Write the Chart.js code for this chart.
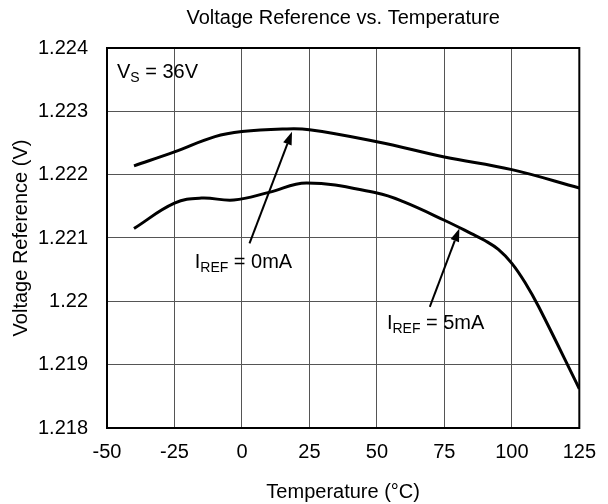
<!DOCTYPE html>
<html>
<head>
<meta charset="utf-8">
<script src="https://cdn.jsdelivr.net/npm/chart.js@4.4.1/dist/chart.umd.min.js"></script>
<style>
  html, body { margin: 0; padding: 0; background: #fff; }
  #wrap { width: 608px; height: 504px; }
</style>
</head>
<body>
<div id="wrap"><canvas id="vrefChart" width="608" height="504"></canvas></div>
<script>
'use strict';

// ── Data ───────────────────────────────────────
const TEMPS_0MA = [-40, -25, -10, 0, 15, 25, 50, 75, 100, 125];
const VREF_0MA  = [1.22214, 1.22236, 1.2226, 1.22268, 1.22272, 1.22271, 1.22252, 1.22228, 1.22208, 1.22179];

const TEMPS_5MA = [-40, -25, -15, -3, 10, 24, 50, 60, 75, 85, 90, 95, 100, 105, 110, 125];
const VREF_5MA  = [1.22115, 1.22155, 1.22163, 1.2216, 1.22172, 1.22187, 1.22171, 1.22157,
                   1.22128, 1.22107, 1.22096, 1.22082, 1.2206, 1.22029, 1.21991, 1.21862];

const X_TICKS = [-50, -25, 0, 25, 50, 75, 100, 125];
const Y_TICKS = [1.218, 1.219, 1.22, 1.221, 1.222, 1.223, 1.224];
const Y_TICK_LABELS = ['1.218', '1.219', '1.22', '1.221', '1.222', '1.223', '1.224'];

const FONT = '"Liberation Sans", Arial, sans-serif';

// annotations, in data units
const NOTES = [
  { main: 'V', sub: 'S', rest: ' = 36V', x: -46.3, y: 1.22362 },
  { main: 'I', sub: 'REF', rest: ' = 0mA', x: -17.5, y: 1.220618 },
  { main: 'I', sub: 'REF', rest: ' = 5mA', x: 53.7, y: 1.219654 }
];
const ARROWS = [
  { from: [2.8, 1.220914], to: [18.55, 1.222677] },
  { from: [69.6, 1.219912], to: [80.57, 1.221151] }
];

const toPts = (xs, ys) => xs.map((x, i) => ({ x, y: ys[i] }));

// ── Plugin: frame, title, labels, arrows ──────
const decor = {
  id: 'decor',
  beforeDatasetsDraw(chart) {
    const { ctx, chartArea: a } = chart;
    ctx.save();
    ctx.strokeStyle = '#000';
    ctx.lineWidth = 2;
    ctx.strokeRect(a.left, a.top, a.right - a.left, a.bottom - a.top);
    ctx.restore();
  },
  afterDatasetsDraw(chart) {
    const { ctx, chartArea: a, scales: { x, y } } = chart;
    ctx.save();

    // title
    ctx.fillStyle = '#000';
    ctx.font = `20px ${FONT}`;
    ctx.textAlign = 'center';
    ctx.textBaseline = 'middle';
    ctx.fillText('Voltage Reference vs. Temperature', (a.left + a.right) / 2, 18);

    // labels with subscripts
    ctx.textAlign = 'left';
    NOTES.forEach(n => {
      let px = x.getPixelForValue(n.x);
      const py = y.getPixelForValue(n.y);
      ctx.font = `20px ${FONT}`;
      ctx.fillText(n.main, px, py);
      px += ctx.measureText(n.main).width;
      ctx.font = `14px ${FONT}`;
      ctx.fillText(n.sub, px, py + 6);
      px += ctx.measureText(n.sub).width;
      ctx.font = `20px ${FONT}`;
      ctx.fillText(n.rest, px, py);
    });

    // arrows
    ctx.strokeStyle = '#000';
    ctx.fillStyle = '#000';
    ctx.lineWidth = 2;
    ARROWS.forEach(ar => {
      const x0 = x.getPixelForValue(ar.from[0]), y0 = y.getPixelForValue(ar.from[1]);
      const x1 = x.getPixelForValue(ar.to[0]),   y1 = y.getPixelForValue(ar.to[1]);
      const ang = Math.atan2(y1 - y0, x1 - x0);
      const len = 13, half = 4.5;
      const bx = x1 - len * Math.cos(ang), by = y1 - len * Math.sin(ang);
      ctx.beginPath();
      ctx.moveTo(x0, y0);
      ctx.lineTo(bx, by);
      ctx.stroke();
      ctx.beginPath();
      ctx.moveTo(x1, y1);
      ctx.lineTo(bx + half * Math.sin(ang), by - half * Math.cos(ang));
      ctx.lineTo(bx - half * Math.sin(ang), by + half * Math.cos(ang));
      ctx.closePath();
      ctx.fill();
    });
    ctx.restore();
  }
};

const lineSet = (label, pts) => ({
  label,
  data: pts,
  borderColor: '#000',
  borderWidth: 3,
  pointRadius: 0,
  fill: false,
  tension: 0.4
});

new Chart(document.getElementById('vrefChart').getContext('2d'), {
  type: 'line',
  data: {
    datasets: [
      lineSet('IREF = 0mA', toPts(TEMPS_0MA, VREF_0MA)),
      lineSet('IREF = 5mA', toPts(TEMPS_5MA, VREF_5MA))
    ]
  },
  plugins: [decor],
  options: {
    responsive: false,
    animation: false,
    devicePixelRatio: 1,
    layout: { padding: { top: 48, right: 27, left: 0, bottom: 0 } },
    plugins: { legend: { display: false }, tooltip: { enabled: false }, title: { display: false } },
    scales: {
      x: {
        type: 'linear',
        min: -50, max: 125,
        afterBuildTicks: s => { s.ticks = X_TICKS.map(v => ({ value: v })); },
        afterFit: s => { s.height = 76; },
        grid: { color: '#555', lineWidth: 1, drawTicks: false },
        border: { display: false },
        ticks: { color: '#000', font: { family: FONT, size: 20 }, padding: 12 },
        title: { display: true, text: 'Temperature (°C)', color: '#000', font: { family: FONT, size: 20 }, padding: { top: 0, bottom: 0 } }
      },
      y: {
        type: 'linear',
        min: 1.218, max: 1.224,
        afterBuildTicks: s => { s.ticks = Y_TICKS.map(v => ({ value: v })); },
        afterFit: s => { s.width = 107; },
        grid: { color: '#555', lineWidth: 1, drawTicks: false },
        border: { display: false },
        ticks: {
          color: '#000', font: { family: FONT, size: 20 }, padding: 19,
          callback: (v, i) => Y_TICK_LABELS[i]
        },
        title: { display: true, text: 'Voltage Reference (V)', color: '#000', font: { family: FONT, size: 20 }, padding: { top: 9, bottom: 0 } }
      }
    }
  }
});
</script>
</body>
</html>
